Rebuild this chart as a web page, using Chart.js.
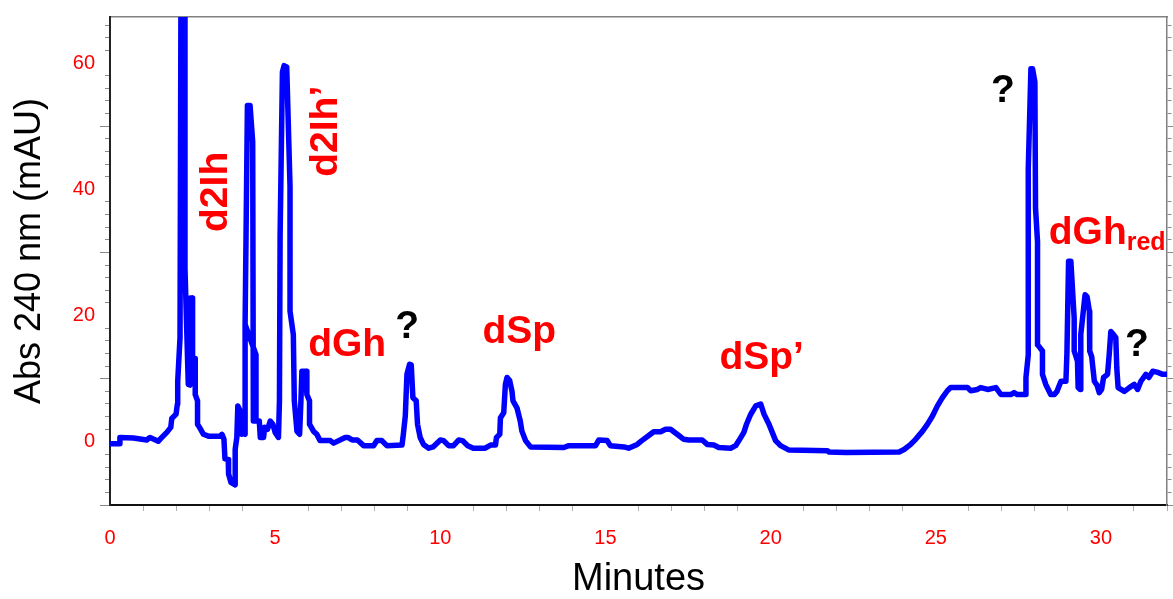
<!DOCTYPE html>
<html>
<head>
<meta charset="utf-8">
<title>Abs 240 nm</title>
<script src="https://cdn.jsdelivr.net/npm/chart.js@4.4.1/dist/chart.umd.min.js"></script>
<style>
    html, body { margin: 0; padding: 0; background: #fff; }
    canvas { display: block; }
</style>
</head>
<body>
<canvas id="grafico" width="1173" height="599"></canvas>
<script>
// Tiempo de retención (min) y absorbancia a 240 nm (mAU), en orden de trazo
const minutos = [
    0, 0.28, 0.30, 0.71, 1.11, 1.21, 1.46, 1.57, 1.72, 1.84, 1.87, 2.00, 2.04, 2.05, 2.12,
    2.15, 2.27, 2.27, 2.37, 2.42, 2.43, 2.49, 2.50, 2.58, 2.58, 2.65, 2.65, 2.71, 2.83, 2.98,
    3.33, 3.39, 3.45, 3.48, 3.58, 3.59, 3.66, 3.79, 3.79, 3.84, 3.87, 3.94, 3.99, 4.04,
    4.09, 4.09, 4.42, 4.42, 4.42, 4.09, 4.16, 4.24, 4.32, 4.34, 4.52, 4.55, 4.65, 4.68, 4.77,
    4.85, 4.93, 5.00, 5.10, 5.13, 5.15, 5.22, 5.27, 5.35, 5.45, 5.45, 5.55, 5.58, 5.66, 5.74,
    5.78, 5.81, 5.94, 5.96, 6.04, 6.04, 6.16, 6.26, 6.36, 6.67, 6.77, 7.12, 7.20, 7.33, 7.49,
    7.68, 7.98, 8.08, 8.23, 8.38, 8.84, 8.87, 8.94, 8.99, 9.07, 9.12, 9.17, 9.27, 9.31, 9.39,
    9.49, 9.65, 9.78, 10.00, 10.10, 10.25, 10.40, 10.56, 10.67, 10.83, 11.00, 11.36, 11.52,
    11.67, 11.70, 11.80, 11.82, 11.92, 11.97, 12.02, 12.10, 12.17, 12.20, 12.32, 12.42, 12.47,
    12.58, 12.73, 13.74, 13.89, 14.70, 14.80, 15.05, 15.15, 15.56, 15.70, 15.96, 16.10, 16.31,
    16.46, 16.67, 16.82, 16.97, 17.07, 17.22, 17.37, 17.52, 17.93, 18.08, 18.28, 18.43, 18.79,
    18.94, 19.04, 19.19, 19.27, 19.39, 19.55, 19.70, 19.80, 19.95, 20.05, 20.15, 20.30, 20.56,
    21.72, 21.77, 22.27, 23.89, 24.04, 24.24, 24.39, 24.60, 24.75, 24.90, 25.05, 25.20, 25.35,
    25.45, 25.96, 26.06, 26.26, 26.36, 26.57, 26.82, 26.97, 27.27, 27.37, 27.47, 27.73, 27.73,
    27.80, 27.80, 27.88, 27.93, 28.00, 28.02, 28.08, 28.08, 28.23, 28.23, 28.33, 28.48, 28.59,
    28.67, 28.79, 28.94, 28.97, 29.02, 29.09, 29.19, 29.19, 29.29, 29.31, 29.37, 29.39, 29.52,
    29.58, 29.65, 29.66, 29.72, 29.80, 29.88, 29.95, 30.02, 30.08, 30.20, 30.25, 30.30, 30.38,
    30.45, 30.48, 30.52, 30.71, 30.86, 31.01, 31.11, 31.21, 31.36, 31.45, 31.57, 31.72, 31.87,
    32.07
];

const absorbancia = [
    -0.3, -0.3, 0.7, 0.6, 0.3, 0.7, 0.1, 0.7, 1.5, 2.3, 3.7, 4.4, 6.0, 9.6, 16.5,
    75, 75, 27.5, 9.1, 9.0, 22.8, 22.8, 13.3, 13.2, 7.5, 6.5, 2.8, 2.3, 1.2, 0.9,
    0.9, 1.2, 0.4, -2.7, -2.8, -5.1, -6.4, -6.8, -1.2, 0.7, 5.7, 4.9, 1.2, 1.5,
    1.2, 18.6, 13.8, 3.8, 13.8, 18.6, 53.3, 53.3, 47.5, 3.3, 3.3, 0.7, 0.7, 2.3, 2.0,
    3.3, 2.8, 1.5, 0.7, 6.5, 32.8, 58.6, 59.6, 59.4, 40.5, 20.7, 17.0, 6.5, 1.7, 1.2,
    6.5, 11.2, 11.2, 7.5, 6.5, 2.8, 1.7, 1.2, 0.2, 0.2, -0.2, 0.7, 0.7, 0.3, 0.3,
    -0.6, -0.6, 0.2, 0.2, -0.6, -0.5, 0.7, 4.1, 10.7, 12.3, 12.2, 7.0, 6.5, 2.8, 0.7,
    -0.4, -1.0, -0.8, 0.3, 0.2, -0.6, -0.6, 0.3, 0.2, -0.6, -1.0, -1.0, -0.5,
    -0.5, 0.7, 1.2, 3.8, 4.6, 9.1, 10.2, 9.7, 8.0, 6.5, 5.4, 3.3, 1.7,
    0.2, -0.8, -0.9, -0.6, -0.6, 0.3, 0.2, -0.6, -0.8, -1.0, -0.4, 0.2, 1.0,
    1.6, 1.6, 2.0, 2.0, 1.6, 1.0, 0.4, 0.3, 0.3, -0.4, -0.5, -0.9, -1.0,
    -0.6, 0.2, 1.5, 2.8, 4.3, 5.7, 6.0, 4.4, 2.8, 1.5, 0.2, -0.6, -1.3,
    -1.4, -1.6, -1.7, -1.6, -1.2, -0.4, 0.4, 1.7, 2.8, 4.1, 5.7, 7.0, 8.1,
    8.6, 8.6, 8.1, 8.3, 8.6, 8.3, 8.6, 7.5, 7.5, 7.8, 7.5, 7.5, 10.2,
    13.8, 43.3, 59.1, 59.1, 57.0, 37.0, 31.7, 15.4, 14.4, 10.7, 9.1, 7.5, 7.5,
    8.0, 9.6, 9.6, 14.0, 28.6, 28.6, 19.6, 14.4, 12.8, 8.6, 8.3, 17.0, 23.3,
    23.0, 20.7, 14.4, 13.5, 9.6, 9.0, 7.8, 8.3, 10.2, 10.7, 13.8, 17.5, 17.0,
    16.5, 11.7, 8.6, 8.0, 8.6, 9.1, 8.3, 9.6, 10.7, 10.2, 11.2, 11.0, 10.7,
    10.7
];

// Etiquetas de los ejes
const marcasX = [0, 5, 10, 15, 20, 25, 30];
const marcasY = [0, 20, 40, 60];

// Nombres de los picos (posición en minutos / mAU)
const picos = [
    { texto: "d2Ih", x: 3.21, y: 39.6, vertical: true },
    { texto: "d2Ih\u2019", x: 6.55, y: 49.2, vertical: true },
    { texto: "dGh", x: 7.18, y: 13.6 },
    { texto: "?", x: 9.0, y: 16.4, negro: true },
    { texto: "dSp", x: 12.39, y: 15.6 },
    { texto: "dSp\u2019", x: 19.73, y: 11.5 },
    { texto: "?", x: 27.03, y: 53.8, negro: true },
    { texto: "dGh", sub: "red", x: 28.42, y: 31.4 },
    { texto: "?", x: 31.09, y: 13.6, negro: true }
];

const ROJO = "#ff0000";
const AZUL = "#0000ff";
const FUENTE = '"Liberation Sans", Arial, sans-serif';

// Plugin para escribir los nombres de los picos sobre la gráfica
const nombresPicos = {
    id: "nombresPicos",
    afterDatasetsDraw(chart) {
        const ctx = chart.ctx;
        const x = chart.scales.x;
        const y = chart.scales.y;
        picos.forEach(function(p) {
            const px = x.getPixelForValue(p.x);
            const py = y.getPixelForValue(p.y);
            ctx.save();
            ctx.fillStyle = p.negro ? "#000" : ROJO;
            ctx.font = "bold 39px " + FUENTE;
            if (p.vertical) {
                ctx.translate(px, py);
                ctx.rotate(-Math.PI / 2);
                ctx.textAlign = "center";
                ctx.textBaseline = "middle";
                ctx.fillText(p.texto, 0, 0);
            } else if (p.sub) {
                ctx.textAlign = "left";
                ctx.textBaseline = "alphabetic";
                ctx.fillText(p.texto, px, py);
                const ancho = ctx.measureText(p.texto).width;
                ctx.font = "bold 25px " + FUENTE;
                ctx.fillText(p.sub, px + ancho, py + 6);
            } else {
                ctx.textAlign = "center";
                ctx.textBaseline = "alphabetic";
                ctx.fillText(p.texto, px, py);
            }
            ctx.restore();
        });
    }
};

const puntos = minutos.map((m, i) => ({ x: m, y: absorbancia[i] }));

// Marcas del eje Y: cortas cada 2, largas cada 10, ninguna en los valores rotulados
function guionY(c) { return c.tick.value % 10 === 0 ? [] : [5, 5]; }
function colorMarcaY(c) { return c.tick.value % 20 === 0 ? "rgba(0,0,0,0)" : "#8a8a8a"; }

const chart = new Chart(document.getElementById("grafico"), {
    type: "line",
    data: {
        datasets: [{
            data: puntos,
            borderColor: AZUL,
            borderWidth: 5.5,
            pointRadius: 0,
            tension: 0,
            borderJoinStyle: "round",
            borderCapStyle: "round",
            fill: false
        }]
    },
    options: {
        responsive: false,
        animation: false,
        devicePixelRatio: 1,
        layout: { padding: { top: 15, left: 0, right: 0, bottom: 0 } },
        plugins: {
            legend: { display: false },
            tooltip: { enabled: false }
        },
        scales: {
            x: {
                type: "linear",
                position: "bottom",
                min: 0,
                max: 32,
                afterFit: function(scale) { scale.height = 94; scale.paddingRight = 0; },
                border: { color: "#111", width: 2 },
                grid: {
                    drawOnChartArea: false,
                    tickLength: 6,
                    tickColor: c => c.tick && c.tick.value % 5 === 0 ? "rgba(0,0,0,0)" : "#b0b0b0"
                },
                ticks: {
                    stepSize: 1,
                    autoSkip: false,
                    maxRotation: 0,
                    padding: 15,
                    color: ROJO,
                    font: { family: FUENTE, size: 20 },
                    callback: v => marcasX.includes(v) ? String(v) : ""
                },
                title: {
                    display: true,
                    text: "Minutes",
                    color: "#000",
                    font: { family: FUENTE, size: 38, lineHeight: 1 },
                    padding: { top: 0, bottom: 0 }
                }
            },
            xArriba: {
                type: "linear",
                position: "top",
                min: 0,
                max: 32,
                border: { color: "#808080", width: 1.5 },
                grid: { drawOnChartArea: false, drawTicks: false },
                ticks: { display: false }
            },
            y: {
                type: "linear",
                position: "left",
                min: -10,
                max: 67.3,
                afterFit: function(scale) { scale.width = 110; },
                border: { color: "#222", width: 2 },
                grid: {
                    drawOnChartArea: false,
                    tickLength: 10,
                    tickColor: colorMarcaY,
                    tickBorderDash: guionY,
                    tickBorderDashOffset: 5
                },
                ticks: {
                    stepSize: 2,
                    autoSkip: false,
                    includeBounds: false,
                    padding: 5,
                    color: ROJO,
                    font: { family: FUENTE, size: 20 },
                    callback: v => marcasY.includes(v) ? String(v) : ""
                },
                title: {
                    display: true,
                    text: "  Abs 240 nm (mAU)",
                    color: "#000",
                    font: { family: FUENTE, size: 36, lineHeight: 1 },
                    padding: { top: 12, bottom: 0 }
                }
            },
            yDerecha: {
                type: "linear",
                position: "right",
                min: -10,
                max: 67.3,
                afterFit: function(scale) { scale.width = 6; },
                border: { color: "#808080", width: 1.5 },
                grid: {
                    drawOnChartArea: false,
                    tickLength: 6,
                    tickColor: colorMarcaY,
                    tickBorderDash: c => c.tick.value % 10 === 0 ? [] : [4, 6]
                },
                ticks: { display: false, stepSize: 2, includeBounds: false }
            }
        }
    },
    plugins: [nombresPicos]
});
</script>
</body>
</html>
